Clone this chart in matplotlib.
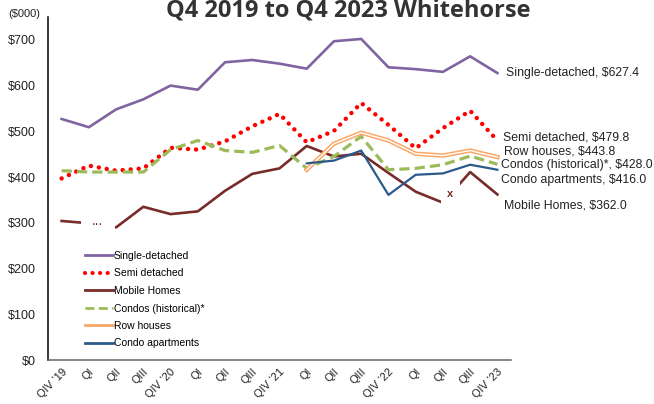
import numpy as np
import matplotlib
matplotlib.use("Agg")
import matplotlib.pyplot as plt
from matplotlib.lines import Line2D
import matplotlib.patheffects as pe

plt.rcParams['font.family'] = ['Liberation Sans', 'DejaVu Sans']

quarters = ["QIV \u201919", "QI", "QII", "QIII", "QIV \u201920", "QI", "QII", "QIII",
            "QIV \u201921", "QI", "QII", "QIII", "QIV \u201922", "QI", "QII", "QIII", "QIV \u201923"]

nan = np.nan
single = [527, 509, 548, 570, 600, 591, 651, 656, 648, 637, 697, 702, 640, 636, 630, 664, 627.4]
semi = [397, 425, 414, 419, 464, 460, 478, 511, 538, 476, 501, 562, 514, 463, 507, 545, 479.8]
mobile = [304, 299, 290, 335, 319, 325, 370, 407, 419, 468, 445, 451, 409, 368, 344, 411, 362.0]
condos = [414, 411, 411, 411, 460, 480, 458, 454, 469, 419, 445, 489, 416, 419, 427, 446, 428.0]
row = [nan] * 9 + [416, 473, 497, 480, 451, 447, 458, 443.8]
apts = [nan] * 9 + [430, 436, 458, 361, 405, 408, 427, 416.0]

c_single = "#8064A2"
c_semi = "#FF0000"
c_mobile = "#772C2A"
c_condos = "#9BBB59"
c_row = "#F9A868"
c_apts = "#2C5A8A"

fig = plt.figure(figsize=(6.54, 4.04), dpi=100)
ax = fig.add_axes([48 / 654, 1 - 360 / 404, 463 / 654, 343 / 404])
x = np.arange(len(quarters))

ax.plot(x, single, color=c_single, lw=1.9, zorder=3)
ax.plot(x, semi, color=c_semi, lw=3.2, dashes=(0.01, 1.8), dash_capstyle='round', zorder=3)
ax.plot(x, mobile, color=c_mobile, lw=1.9, zorder=3)
ax.plot(x, condos, color=c_condos, lw=2.3, dashes=(3.2, 1.6), zorder=3)
ax.plot(x, row, color="white", lw=1.0, zorder=3,
        path_effects=[pe.Stroke(linewidth=3.2, foreground=c_row), pe.Normal()])
ax.plot(x, apts, color=c_apts, lw=1.6, zorder=3)

# suppressed / not available markers on mobile homes
ax.text(1.33, 305, "...", color=c_mobile, fontsize=10, ha='center', va='center', zorder=4,
        bbox=dict(boxstyle='square,pad=0.8', fc='white', ec='none'))
ax.text(14.27, 364, "x", color=c_mobile, fontsize=8, ha='center', va='center', zorder=4,
        fontweight='bold', bbox=dict(boxstyle='square,pad=0.55', fc='white', ec='none'))

labels = [("Single-detached, $627.4", 628), ("Semi detached, $479.8", 486),
          ("Row houses, $443.8", 455), ("Condos (historical)*, $428.0", 427),
          ("Condo apartments, $416.0", 394), ("Mobile Homes, $362.0", 338)]
label_x = [16.32, 16.2, 16.26, 16.15, 16.15, 16.26]
for (t, yv), xv in zip(labels, label_x):
    ax.text(xv, yv, t, fontsize=8.8, va='center', ha='left', color="#222222", clip_on=False)

ax.set_xlim(-0.5, 16.5)
ax.set_ylim(0, 750)
ax.set_yticks(range(0, 701, 100))
ax.set_yticklabels([f"${v}" for v in range(0, 701, 100)], fontsize=9, color="#222222")
ax.set_xticks(x)
ax.set_xticklabels(quarters, rotation=45, ha='right', rotation_mode='anchor',
                   fontsize=8, color="#222222")
ax.tick_params(axis='both', length=0)
ax.tick_params(axis='y', pad=9)
ax.tick_params(axis='x', pad=5)

for s in ['top', 'right']:
    ax.spines[s].set_visible(False)
ax.spines['left'].set_color('black')
ax.spines['left'].set_linewidth(1.1)
ax.spines['bottom'].set_color('#666666')
ax.spines['bottom'].set_linewidth(1.1)

handles = [
    Line2D([], [], color=c_single, lw=2),
    Line2D([], [], color=c_semi, lw=3, dashes=(0.01, 1.8), dash_capstyle='round'),
    Line2D([], [], color=c_mobile, lw=2),
    Line2D([], [], color=c_condos, lw=2, dashes=(3.2, 1.6)),
    Line2D([], [], color=c_row, lw=2),
    Line2D([], [], color=c_apts, lw=2),
]
names = ["Single-detached", "Semi detached", "Mobile Homes", "Condos (historical)*",
         "Row houses", "Condo apartments"]
fig.legend(handles, names, loc='upper left', bbox_to_anchor=(85 / 654, 1 - 251 / 404),
           frameon=False, fontsize=7.5, handlelength=2.7, handletextpad=0.05,
           labelspacing=0.72, borderpad=0, borderaxespad=0)

fig.text(8 / 654, 1 - 14 / 404, "($000)", fontsize=8, va='center', ha='left', color="#222222")
fig.text(348 / 654, 1 - 11 / 404, "Q4 2019 to Q4 2023 Whitehorse", fontsize=17,
         fontweight='bold', family='Open Sans', ha='center', va='center', color="#333333")

fig.savefig("out.png", dpi=100)
